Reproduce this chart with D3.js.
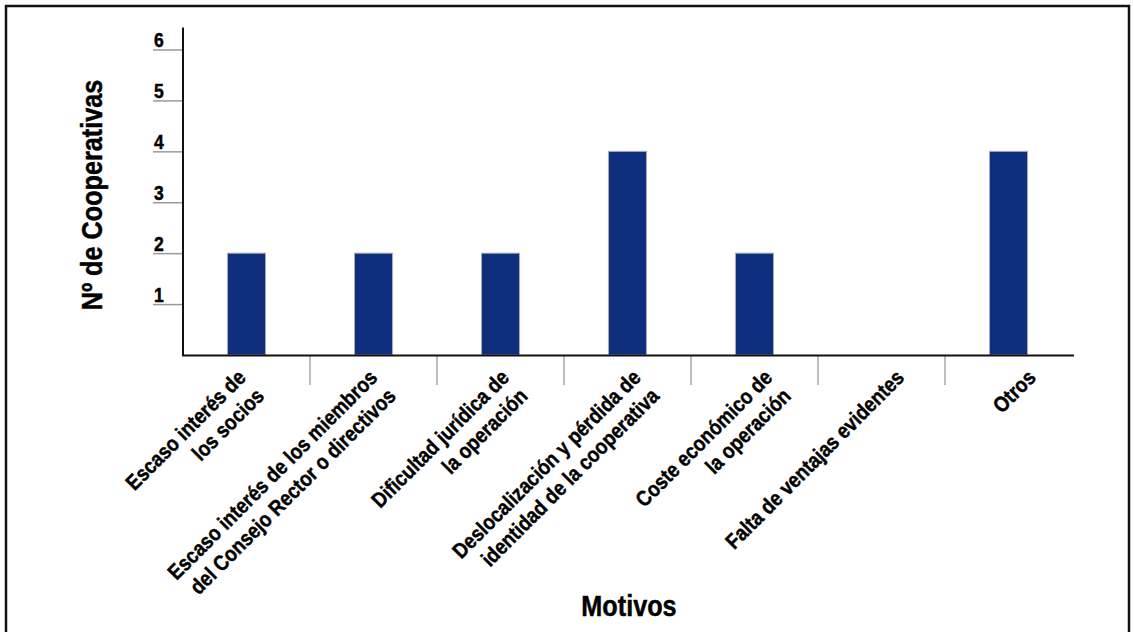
<!DOCTYPE html>
<html>
<head>
<meta charset="utf-8">
<script src="https://cdn.jsdelivr.net/npm/d3@7"></script>
<style>
  body { margin: 0; background: #fff; }
  svg text { font-family: 'Liberation Sans', Arial, sans-serif; font-weight: bold; fill: #000; stroke: #000; stroke-width: 0.45px; }
</style>
</head>
<body>
<script>
// categories (line breaks as in the original labels)
const categories = [
  'Escaso interés de\nlos socios',
  'Escaso interés de los miembros\ndel Consejo Rector o directivos',
  'Dificultad jurídica de\nla operación',
  'Deslocalización y pérdida de\nidentidad de la cooperativa',
  'Coste económico de\nla operación',
  'Falta de ventajas evidentes',
  'Otros',
];
const values = [2, 2, 2, 4, 2, 0, 4];
const yTicks = [1, 2, 3, 4, 5, 6];

const width = 1134;
const height = 632;
// the original uses a condensed face: squeeze Liberation Sans horizontally
const squeeze = 0.87;

const svg = d3.select('body').append('svg')
  .attr('width', width)
  .attr('height', height);

// frame
svg.append('rect')
  .attr('x', 6).attr('y', 6)
  .attr('width', 1123).attr('height', 660)
  .attr('fill', 'none')
  .attr('stroke', '#111')
  .attr('stroke-width', 2.5);

const x = d3.scaleBand()
  .domain(categories)
  .range([183, 1072])
  .paddingInner(0.7)
  .paddingOuter(0.35);

// the rotated labels are spread a little wider than the bars
const xLabel = d3.scalePoint()
  .domain(categories)
  .range([247, 1037]);

const y = d3.scaleLinear()
  .domain([0, 6])
  .range([355, 49.5]);

// y ticks: gray lines with the number sitting on top
const yAxis = svg.append('g')
  .attr('transform', 'translate(183,0)')
  .call(d3.axisLeft(y).tickValues(yTicks).tickFormat(d3.format('d')).tickSize(30).tickSizeOuter(0));
yAxis.select('.domain').remove();
yAxis.selectAll('.tick line')
  .attr('stroke', '#9a9a9a')
  .attr('stroke-width', 1.5);
yAxis.selectAll('.tick text')
  .attr('x', 0)
  .attr('dy', 0)
  .attr('transform', `translate(-29,-3) scale(0.9,1)`)
  .attr('text-anchor', 'start')
  .attr('font-size', 19.5)
  .attr('fill', '#000');

// bars
svg.append('g').selectAll('rect')
  .data(values)
  .join('rect')
  .attr('x', (d, i) => x(categories[i]))
  .attr('y', d => y(d))
  .attr('width', x.bandwidth())
  .attr('height', d => y(0) - y(d))
  .attr('fill', '#0f2f7e')
  .attr('stroke', '#a9adb8')
  .attr('stroke-width', 1);

// category separators under the x axis
svg.append('g').selectAll('line')
  .data(categories.slice(1))
  .join('line')
  .attr('x1', d => x(d) - x.step() * x.paddingInner() / 2)
  .attr('x2', d => x(d) - x.step() * x.paddingInner() / 2)
  .attr('y1', 356)
  .attr('y2', 385)
  .attr('stroke', '#a8a8a8')
  .attr('stroke-width', 1.5);

// axis lines
svg.append('line')
  .attr('x1', 183).attr('x2', 183)
  .attr('y1', 27.5).attr('y2', 356)
  .attr('stroke', '#111').attr('stroke-width', 2);
svg.append('line')
  .attr('x1', 182).attr('x2', 1074)
  .attr('y1', 355.5).attr('y2', 355.5)
  .attr('stroke', '#111').attr('stroke-width', 2);

// rotated category labels, right aligned
const lineH = 26;
const labels = svg.append('g').selectAll('text')
  .data(categories)
  .join('text')
  .attr('font-size', 21.5)
  .attr('text-anchor', 'end')
  .attr('transform', d => `translate(${xLabel(d)},379) rotate(-45) scale(${squeeze},1)`);
labels.selectAll('tspan')
  .data(d => d.split('\n'))
  .join('tspan')
  .attr('x', 0)
  .attr('dy', (d, i) => (i === 0 ? 0 : lineH))
  .text(d => d);

// axis titles
svg.append('text')
  .attr('transform', `translate(102,195) rotate(-90) scale(${squeeze},1)`)
  .attr('text-anchor', 'middle')
  .attr('font-size', 29)
  .text('Nº de Cooperativas');

svg.append('text')
  .attr('transform', `translate(629,616) scale(${squeeze},1)`)
  .attr('text-anchor', 'middle')
  .attr('font-size', 29)
  .text('Motivos');
</script>
</body>
</html>
